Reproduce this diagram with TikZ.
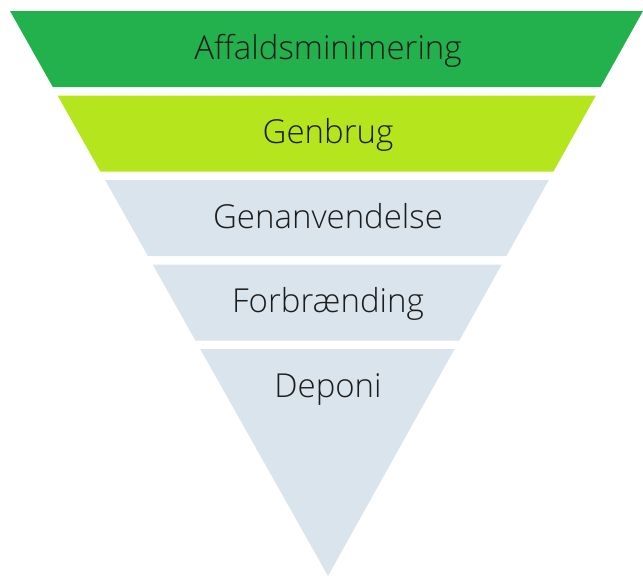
\documentclass[tikz,border=0pt]{standalone}
\usepackage{fontspec}
\setmainfont{Open Sans Light}
\usepackage{xcolor}
\definecolor{wastegreen}{RGB}{35,177,77}
\definecolor{wastelime}{RGB}{181,230,29}
\definecolor{wastegray}{RGB}{218,228,236}
\definecolor{wastetext}{RGB}{28,28,28}

\begin{document}
\begin{tikzpicture}[x=1pt, y=-1pt,
    level/.style={anchor=base, text=wastetext, inner sep=0pt,
        font=\fontsize{33}{38}\selectfont}]
    \useasboundingbox (0,0) rectangle (643,576);

    % Bands of the inverted triangle, top to bottom
    \fill[wastegreen] (10,11) -- (643,11) -- (600.6,87) -- (52.8,87) -- cycle;
    \fill[wastelime] (57.6,95.5) -- (595.9,95.5) -- (553.5,171.5) -- (100.3,171.5) -- cycle;
    \fill[wastegray] (105.1,180) -- (548.8,180) -- (506.4,256) -- (147.9,256) -- cycle;
    \fill[wastegray] (152.7,264.5) -- (501.7,264.5) -- (459.3,340.5) -- (195.4,340.5) -- cycle;
    \fill[wastegray] (200.2,349) -- (454.6,349) -- (328,576) -- cycle;

    % Labels
    \node[level] (minimering) at (328,59) {Affaldsminimering};
    \node[level] (genbrug) at (328,143.5) {Genbrug};
    \node[level] (genanvendelse) at (328,228) {Genanvendelse};
    \node[level] (forbraending) at (328,312.5) {Forbrænding};
    \node[level] (deponi) at (328,397) {Deponi};
\end{tikzpicture}
\end{document}
